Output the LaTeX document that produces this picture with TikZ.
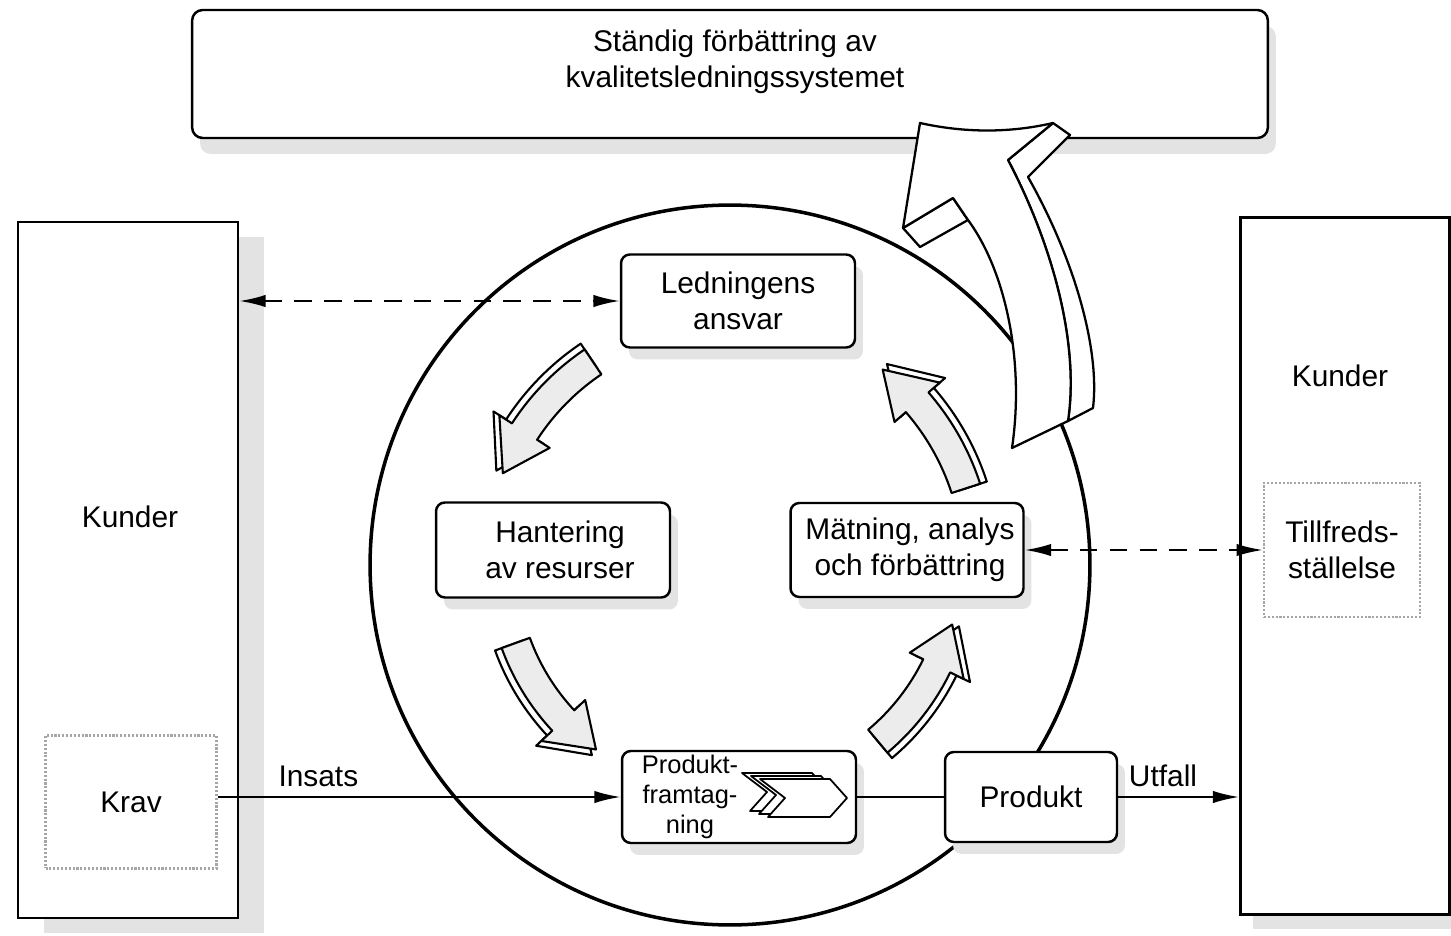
\documentclass[tikz,border=0pt]{standalone}
\usepackage{fontspec}
\setmainfont{Liberation Sans}
\usetikzlibrary{arrows.meta,shadows}

\tikzset{
  rbox/.style={draw, fill=white, rounded corners=5pt, line width=1.4pt, align=center,
    drop shadow={shadow xshift=0.16cm, shadow yshift=-0.24cm, fill=gray!22, opacity=1}},
  sqbox/.style={draw, fill=white, line width=1.4pt},
  dotbox/.style={draw=gray!70, densely dotted, line width=1.2pt, fill=white, align=center},
  ribbon/.style={draw, line width=1.2pt, line join=round, fill=gray!15},
  ribbonback/.style={draw, line width=1.2pt, line join=round, fill=white},
  bigface/.style={draw, line width=1.3pt, line join=round, fill=white},
  conn/.style={line width=1.2pt},
  dashconn/.style={line width=1.2pt, dash pattern=on 10pt off 7pt}
}

% curved band arrow round the cycle: tail angle, tip angle, radius, style
\newcommand{\cyclearrow}[4]{%
  \pgfmathsetmacro\headBase{#2+11}
  \pgfmathsetmacro\arcOut{#3+15}
  \pgfmathsetmacro\arcIn{#3-15}
  \pgfmathsetmacro\headOut{#3+30}
  \pgfmathsetmacro\headIn{#3-30}
  \path[#4] (#1:\arcOut) arc[start angle=#1, end angle=\headBase, radius=\arcOut]
    -- (\headBase:\headOut) -- (#2:#3) -- (\headBase:\headIn) -- (\headBase:\arcIn)
    arc[start angle=\headBase, end angle=#1, radius=\arcIn] -- cycle;
}

\begin{document}
\begin{tikzpicture}[x=0.02cm, y=-0.02cm, font=\fontsize{17}{20.5}\selectfont,
  >={Latex[length=15pt,width=7pt]}]
	\useasboundingbox (0,0) rectangle (1451,936);

	% top box
	\path (730,74) node (top) [draw, fill=white, rounded corners=6pt, line width=1.4pt,
		minimum width=21.52cm, minimum height=2.56cm,
		drop shadow={shadow xshift=0.16cm, shadow yshift=-0.32cm, fill=gray!22, opacity=1}] {}
		  (735,62) node (toptxt) [align=center] {Ständig förbättring av\\kvalitetsledningssystemet};

	% customers
	\path (128,570) node (kundL) [sqbox, minimum width=4.4cm, minimum height=13.92cm,
		drop shadow={shadow xshift=0.52cm, shadow yshift=-0.3cm, fill=gray!22, opacity=1}] {}
		  (130,517) node (kundLtxt) {Kunder}
		  (131,802) node (krav) [dotbox, minimum width=3.42cm, minimum height=2.66cm] {Krav};
	\path (1345,566) node (kundR) [sqbox, minimum width=4.18cm, minimum height=13.94cm,
		drop shadow={shadow xshift=0.24cm, shadow yshift=-0.3cm, fill=gray!22, opacity=1}] {}
		  (1340,376) node (kundRtxt) {Kunder}
		  (1342,550) node (tillf) [dotbox, minimum width=3.12cm, minimum height=2.68cm] {Tillfreds-\\ställelse};

	% process cycle
	\path (730,565) node (cykel) [draw, circle, line width=2pt, minimum size=14.4cm] {};

	\begin{scope}[shift={(cykel.center)}]
		\foreach \ta/\tb/\rad in {-124/-158/245, 160/126/228, 50/15/230, -18/-52/248} {
			\pgfmathsetmacro\radb{\rad+7}
			\cyclearrow{\ta}{\tb}{\radb}{ribbonback}
			\cyclearrow{\ta}{\tb}{\rad}{ribbon}
		}
	\end{scope}

	% big arrow up to the top box
	\draw[bigface] (1053,123) -- (1070,135) -- (1028,177) .. controls (1075,260) and (1100,350) .. (1093,408)
		-- (1068,421) .. controls (1080,340) and (1050,240) .. (1008,160) -- cycle;
	\draw[bigface] (903,228) -- (920,247) -- (968,220) -- (953,198) -- cycle;
	\draw[bigface] (920,123) .. controls (965,133) and (1010,133) .. (1053,123) -- (1008,160)
		.. controls (1050,240) and (1080,340) .. (1068,421) -- (1012,448)
		.. controls (1025,360) and (1005,270) .. (968,220) -- (953,198) -- (903,228) -- cycle;

	\path (738,301) node (ledn) [rbox, minimum width=4.68cm, minimum height=1.86cm] {Ledningens\\ansvar}
		  (553,550) node (hant) [rbox, minimum width=4.68cm, minimum height=1.9cm] {}
		  (560,550) node (hanttxt) [align=center] {Hantering\\av resurser}
		  (907,550) node (matn) [rbox, minimum width=4.66cm, minimum height=1.88cm] {}
		  (910,550) node (matntxt) [align=center] {Mätning, analys\\och förbättring}
		  (739,797) node (prod) [rbox, minimum width=4.68cm, minimum height=1.84cm] {}
		  (690,797) node (prodtxt) [align=center, font=\fontsize{14.5}{17}\selectfont] {Produkt-\\framtag-\\ning}
		  (1031,797) node (produkt) [rbox, minimum width=3.44cm, minimum height=1.8cm] {Produkt};

	% chevrons in the product box
	\foreach \dx/\dy in {-18/-6, -9/-3, 0/0}
		\draw[fill=white, line width=1pt, line join=round, shift={(\dx,\dy)}]
			(760,779) -- (830,779) -- (847,798) -- (830,817) -- (768,817) -- (785,798) -- cycle;

	% connectors
	\draw[dashconn,<->] (ledn.west -| kundL.east) -- (ledn.west);
	\draw[dashconn,<->] (matn.east) -- (tillf.west);
	\draw[conn,->] (prod.west -| krav.east) -- node[above=2pt, pos=0.25] {Insats} (prod.west);
	\draw[conn] (prod.east) -- (produkt.west);
	\draw[conn,->] (produkt.east) -- node[above=2pt, pos=0.37] {Utfall} (produkt.east -| kundR.west);
\end{tikzpicture}
\end{document}
